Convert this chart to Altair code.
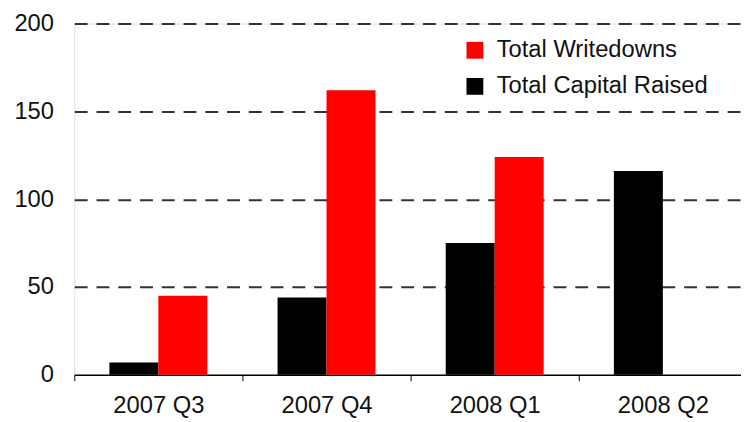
import altair as alt
import pandas as pd

quarters = ["2007 Q3", "2007 Q4", "2008 Q1", "2008 Q2"]
writedowns = [45, 162, 124, None]
capital_raised = [7, 44, 75, 116]
series_names = ["Total Writedowns", "Total Capital Raised"]
series_colors = ["#ff0000", "#000000"]
y_ticks = [0, 50, 100, 150, 200]

rows = []
for q, w, c in zip(quarters, writedowns, capital_raised):
    if c is not None:
        rows.append({"quarter": q, "series": series_names[1], "value": c})
    if w is not None:
        rows.append({"quarter": q, "series": series_names[0], "value": w})
df = pd.DataFrame(rows)

FONT = "Liberation Sans"

chart = alt.Chart(df).mark_bar().encode(
    x=alt.X(
        "quarter:N",
        sort=quarters,
        scale=alt.Scale(range=[0, 680], paddingInner=0, paddingOuter=0),
        axis=alt.Axis(
            title=None,
            labelAngle=0,
            tickBand="extent",
            tickSize=6,
            tickColor="#000",
            tickWidth=1,
            domainColor="#000",
            domainWidth=1.5,
            labelPadding=13.5,
            labelFontSize=24,
            labelFont=FONT,
            labelColor="#111",
            grid=False,
        ),
    ),
    xOffset=alt.XOffset(
        "series:N",
        sort=[series_names[1], series_names[0]],
        scale=alt.Scale(paddingInner=0, paddingOuter=0.717),
    ),
    y=alt.Y(
        "value:Q",
        scale=alt.Scale(domain=[0, 200], nice=False),
        axis=alt.Axis(
            title=None,
            values=y_ticks,
            domain=False,
            ticks=False,
            tickSize=0,
            labelPadding=21,
            labelFontSize=24,
            labelFont=FONT,
            labelColor="#111",
            grid=True,
            gridColor="#333",
            gridWidth=2,
            gridDash=[13, 9],
            gridOpacity={"condition": {"test": "datum.value === 0", "value": 0}, "value": 1},
        ),
    ),
    color=alt.Color(
        "series:N",
        scale=alt.Scale(domain=series_names, range=series_colors),
        legend=alt.Legend(
            title=None,
            orient="none",
            legendX=393,
            legendY=15,
            symbolType="square",
            symbolSize=289,
            symbolStrokeWidth=0,
            labelFontSize=24,
            labelFont=FONT,
            labelColor="#111",
            labelOffset=10,
            labelLimit=400,
            rowPadding=12.5,
            padding=0,
        ),
    ),
).properties(
    width=674,
    height=355,
    autosize=alt.AutoSizeParams(type="none"),
    padding={"left": 67, "top": 13.5, "right": 0, "bottom": 42},
).configure_view(stroke=None).configure(font=FONT)

chart.save("out.html", embed_options={"renderer": "svg", "actions": False})
